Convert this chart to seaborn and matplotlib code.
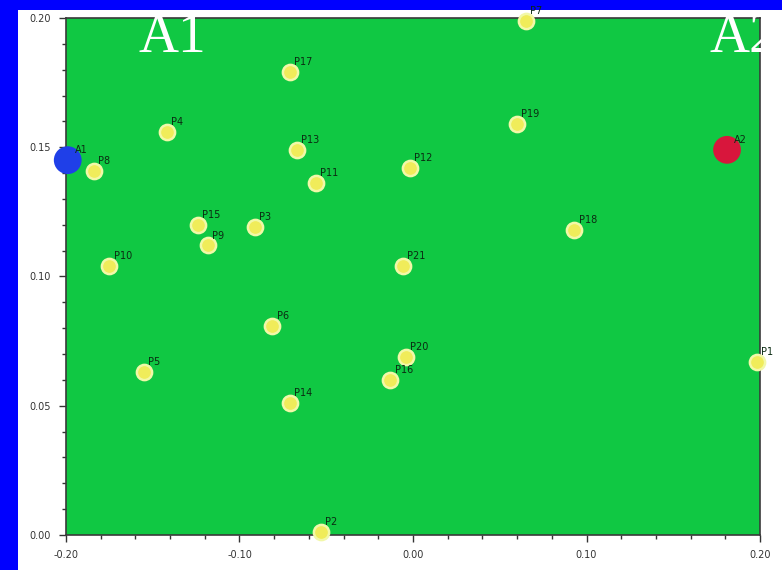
import pandas as pd
import matplotlib
matplotlib.use('Agg')
import matplotlib.pyplot as plt
from matplotlib.patches import Rectangle
from matplotlib.ticker import MultipleLocator, FormatStrFormatter
import seaborn as sns

# 1. DATA
names = ['P7', 'P17', 'P4', 'P8', 'P13', 'P11', 'P12', 'P19', 'P18', 'P15', 'P9',
         'P3', 'P10', 'P21', 'P6', 'P5', 'P14', 'P20', 'P16', 'P1', 'P2']
xs = [0.065, -0.071, -0.142, -0.184, -0.067, -0.056, -0.002, 0.060, 0.093, -0.124, -0.118,
      -0.091, -0.175, -0.006, -0.081, -0.155, -0.071, -0.004, -0.013, 0.198, -0.053]
ys = [0.199, 0.179, 0.156, 0.141, 0.149, 0.136, 0.142, 0.159, 0.118, 0.120, 0.112,
      0.119, 0.104, 0.104, 0.081, 0.063, 0.051, 0.069, 0.060, 0.067, 0.001]

anchor_names = ['A1', 'A2']
anchor_x = [-0.199, 0.181]
anchor_y = [0.145, 0.149]
anchor_colors = ['#1f3fe8', '#d8163c']

df = pd.DataFrame({'name': names, 'x': xs, 'y': ys})
anchors = pd.DataFrame({'name': anchor_names, 'x': anchor_x, 'y': anchor_y})

# 2. FIGURE
sns.set_style('ticks')
fig = plt.figure(figsize=(7.82, 5.70), dpi=100, facecolor='#0000ff')
# white panel behind the axes
fig.add_artist(Rectangle((18 / 782, 0), 1, 1 - 10 / 570, transform=fig.transFigure,
                         facecolor='white', edgecolor='none', zorder=-10))
ax = fig.add_axes([66 / 782, 35 / 570, 694 / 782, 517 / 570])
ax.set_facecolor('#10c843')

# points
sns.scatterplot(data=df, x='x', y='y', ax=ax, s=120, color='#f0ec5a',
                edgecolor='#f2f8a8', linewidth=1.8, zorder=3, clip_on=False, legend=False)
sns.scatterplot(data=anchors, x='x', y='y', hue='name', palette=anchor_colors, ax=ax,
                s=400, edgecolor='none', zorder=4, clip_on=False, legend=False)

for n, x, y in zip(df['name'], df['x'], df['y']):
    ax.annotate(n, (x, y), xytext=(3, 5), textcoords='offset points', fontsize=7,
                color='#0b2b12', zorder=5)
for n, x, y in zip(anchors['name'], anchors['x'], anchors['y']):
    ax.annotate(n, (x, y), xytext=(5, 5), textcoords='offset points', fontsize=7,
                color='#0b2b12', zorder=5)

# 3. AXES
ax.set_xlim(-0.2, 0.2)
ax.set_ylim(0.0, 0.2)
ax.xaxis.set_major_locator(MultipleLocator(0.1))
ax.xaxis.set_minor_locator(MultipleLocator(0.02))
ax.yaxis.set_major_locator(MultipleLocator(0.05))
ax.yaxis.set_minor_locator(MultipleLocator(0.01))
ax.xaxis.set_major_formatter(FormatStrFormatter('%.2f'))
ax.yaxis.set_major_formatter(FormatStrFormatter('%.2f'))
ax.tick_params(which='major', length=5, width=1, labelsize=7, colors='#333333', pad=6)
ax.tick_params(which='minor', length=3, width=1, colors='#333333')
ax.set_xlabel('')
ax.set_ylabel('')
for s in ax.spines.values():
    s.set_color('#3a3a3a')
    s.set_linewidth(1.2)

# big white labels at the top
fig.text(172 / 782, 1 - 52 / 570, 'A1', fontsize=40, color='white',
         family='Liberation Serif', ha='center', va='baseline')
fig.text(710 / 782, 1 - 52 / 570, 'A2', fontsize=40, color='white',
         family='Liberation Serif', ha='left', va='baseline')

fig.savefig('out.png', dpi=100, facecolor=fig.get_facecolor())
